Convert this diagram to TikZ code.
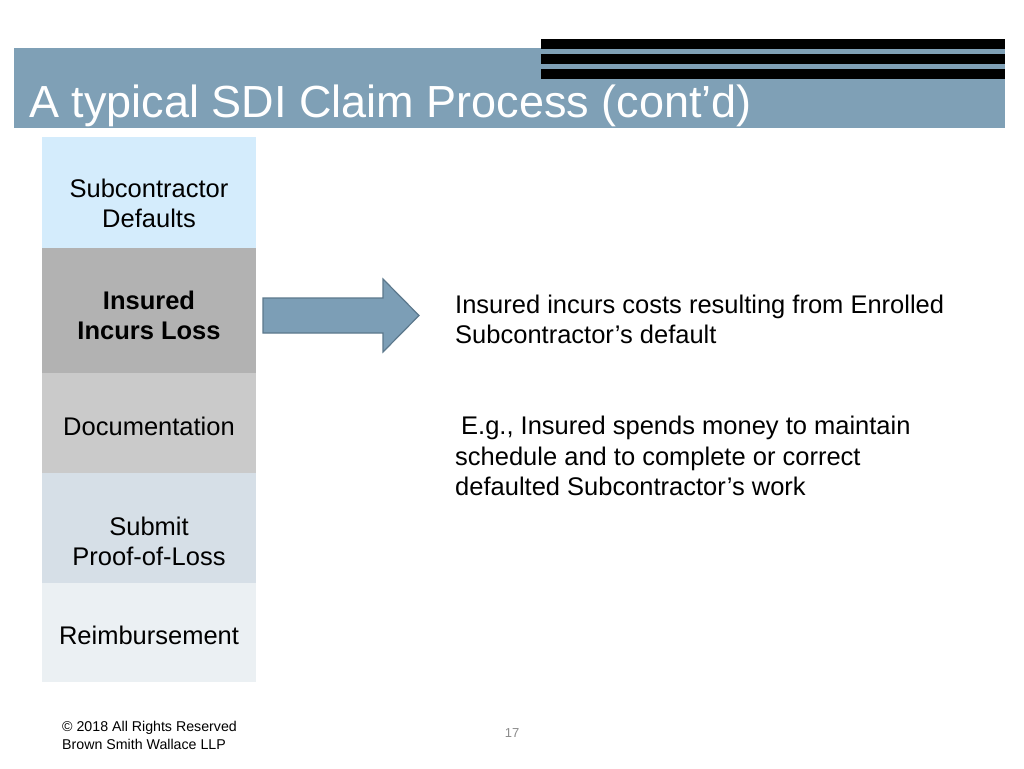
\documentclass[tikz,border=0pt]{standalone}
\usepackage{fontspec}
\setmainfont{Liberation Sans}
\usetikzlibrary{positioning}

\definecolor{bandblue}{RGB}{127,160,182}
\definecolor{arrowblue}{RGB}{124,158,182}
\definecolor{arrowedge}{RGB}{92,120,140}
\definecolor{stepsky}{RGB}{212,236,252}
\definecolor{stepdark}{RGB}{178,178,178}
\definecolor{stepmid}{RGB}{202,202,202}
\definecolor{stepslate}{RGB}{214,223,231}
\definecolor{steppale}{RGB}{235,240,243}

\begin{document}
\begin{tikzpicture}[x=1pt, y=-1pt,
  stepbox/.style={minimum width=214pt, inner sep=0pt, outer sep=0pt, anchor=north},
  steptext/.style={font=\fontsize{25.5}{30}\selectfont, align=center, inner sep=0pt},
  bodytext/.style={font=\fontsize{25.5}{30.5}\selectfont, align=left, anchor=north west, inner sep=0pt}]
  \useasboundingbox (0,0) rectangle (1024,768);
  \fill[white] (0,0) rectangle (1024,768);

  % Title band with the black bars
  \fill[bandblue] (14,48) rectangle (1005,128);
  \fill[black] (541,39) rectangle (1005,49);
  \fill[black] (541,54) rectangle (1005,64);
  \fill[black] (541,69) rectangle (1005,79);
  \node[anchor=base west, inner sep=0pt, text=white, font=\fontsize{45}{45}\selectfont] (title) at (29,117) {A typical SDI Claim Process (cont’d)};

  % Process steps
  \node[stepbox, fill=stepsky, minimum height=111pt] (s1) at (149,137) {};
  \node[stepbox, fill=stepdark, minimum height=125pt, below=0pt of s1] (s2) {};
  \node[stepbox, fill=stepmid, minimum height=100pt, below=0pt of s2] (s3) {};
  \node[stepbox, fill=stepslate, minimum height=110pt, below=0pt of s3] (s4) {};
  \node[stepbox, fill=steppale, minimum height=99pt, below=0pt of s4] (s5) {};

  \node[steptext] (t1) at ([yshift=-11pt]s1.center) {Subcontractor\\Defaults};
  \node[steptext, font=\fontsize{25.5}{30}\selectfont\bfseries] (t2) at ([yshift=-4.5pt]s2.center) {Insured\\Incurs Loss};
  \node[steptext] (t3) at ([yshift=-3pt]s3.center) {Documentation};
  \node[steptext] (t4) at ([yshift=-13pt]s4.center) {Submit\\Proof-of-Loss};
  \node[steptext] (t5) at ([yshift=-2.5pt]s5.center) {Reimbursement};

  % Block arrow
  \draw[fill=arrowblue, draw=arrowedge, line width=1.2pt]
    (263,298) -- (383,298) -- (383,279) -- (419,315.5) -- (383,352) -- (383,333) -- (263,333) -- cycle;

  % Description
  \node[bodytext] (cost) at (455,294.5) {Insured incurs costs resulting from Enrolled\\Subcontractor’s default};
  \node[bodytext] (example) at (455,416) {\hspace*{6pt}E.g., Insured spends money to maintain\\schedule and to complete or correct\\defaulted Subcontractor’s work};

  % Footer
  \node[anchor=north west, inner sep=0pt, align=left, font=\fontsize{14.2}{17.5}\selectfont] (rights) at (62,721) {© 2018 All Rights Reserved\\Brown Smith Wallace LLP};
  \node[inner sep=0pt, text=black!45, font=\fontsize{13}{13}\selectfont] (page) at (512,733) {17};
\end{tikzpicture}
\end{document}
